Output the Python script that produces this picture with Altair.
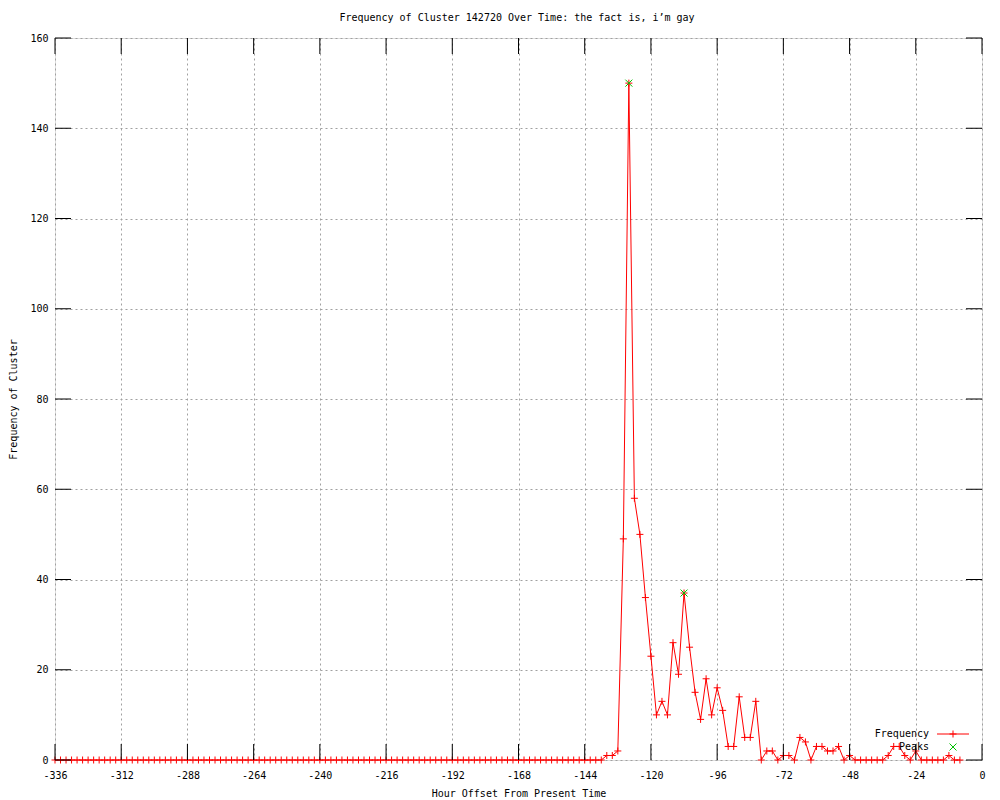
import altair as alt
import pandas as pd

# ---- data ----
hours = list(range(-336, -6, 2))  # observations every 2 hours
freq = [
    0, 0, 0, 0, 0, 0, 0, 0, 0, 0,
    0, 0, 0, 0, 0, 0, 0, 0, 0, 0,
    0, 0, 0, 0, 0, 0, 0, 0, 0, 0,
    0, 0, 0, 0, 0, 0, 0, 0, 0, 0,
    0, 0, 0, 0, 0, 0, 0, 0, 0, 0,
    0, 0, 0, 0, 0, 0, 0, 0, 0, 0,
    0, 0, 0, 0, 0, 0, 0, 0, 0, 0,
    0, 0, 0, 0, 0, 0, 0, 0, 0, 0,
    0, 0, 0, 0, 0, 0, 0, 0, 0, 0,
    0, 0, 0, 0, 0, 0, 0, 0, 0, 0,
    1, 1, 2, 49, 150, 58, 50, 36, 23, 10,
    13, 10, 26, 19, 37, 25, 15, 9, 18, 10,
    16, 11, 3, 3, 14, 5, 5, 13, 0, 2,
    2, 0, 1, 1, 0, 5, 4, 0, 3, 3,
    2, 2, 3, 0, 1, 0, 0, 0, 0, 0,
    0, 1, 3, 3, 1, 0, 2, 0, 0, 0,
    0, 0, 1, 0, 0,
]
assert len(hours) == len(freq)

peak_hours = [-128, -108]
peak_values = [150, 37]

x_ticks = [-336, -312, -288, -264, -240, -216, -192, -168, -144, -120, -96, -72, -48, -24, 0]
y_ticks = [0, 20, 40, 60, 80, 100, 120, 140, 160]

legend_labels = ["Frequency", "Peaks"]
title_text = ["Frequency of Cluster 142720 Over Time: the fact is, i\u2019m gay"]

FONT = "DejaVu Sans Mono"
W, H = 927, 722
RED = "#ff0000"
GREEN = "#00c000"
PLUS = "M-1,0L1,0M0,-1L0,1"
XMARK = "M-1,-1L1,1M-1,1L1,-1"

df = pd.DataFrame({"hour": hours, "freq": freq})
peaks = pd.DataFrame({"hour": peak_hours, "freq": peak_values})
xt = pd.DataFrame({"hour": x_ticks})
yt = pd.DataFrame({"freq": y_ticks})

xscale = alt.Scale(domain=[-336, 0], nice=False, zero=False)
yscale = alt.Scale(domain=[0, 160], nice=False)

x_axis = alt.Axis(
    values=x_ticks, labelExpr="'' + datum.value", title="Hour Offset From Present Time",
    grid=True, gridDash=[2, 3], gridColor="#a0a0a0", gridOpacity=1,
    ticks=False, tickSize=0, domain=False, labelPadding=10, labelFlush=False,
    labelOverlap=False, labelBound=False,
    labelFont=FONT, labelFontSize=10, labelColor="black",
    titleFont=FONT, titleFontSize=10, titleFontWeight="normal", titleColor="black",
    titleY=33, titleBaseline="middle",
)
y_axis = alt.Axis(
    values=y_ticks, labelExpr="'' + datum.value", title="Frequency of Cluster",
    grid=True, gridDash=[2, 3], gridColor="#a0a0a0", gridOpacity=1,
    ticks=False, tickSize=0, domain=False, labelPadding=7, labelFlush=False,
    labelOverlap=False, labelBound=False,
    labelFont=FONT, labelFontSize=10, labelColor="black", labelBaseline="middle",
    titleFont=FONT, titleFontSize=10, titleFontWeight="normal", titleColor="black",
    titleX=-42, titleY=H / 2, titleBaseline="middle", titleAngle=270,
)

X = alt.X("hour:Q", scale=xscale, axis=x_axis)
Y = alt.Y("freq:Q", scale=yscale, axis=y_axis)

line = alt.Chart(df).mark_line(color=RED, strokeWidth=1).encode(x=X, y=Y)
pts = alt.Chart(df).mark_point(shape=PLUS, size=49, color=RED, filled=False, strokeWidth=1, opacity=1).encode(x=X, y=Y)
pk = alt.Chart(peaks).mark_point(shape=XMARK, size=49, color=GREEN, filled=False, strokeWidth=1, opacity=1).encode(x=X, y=Y)

# inward ticks (gnuplot style) on all four sides
tb = alt.Chart(xt).mark_rule(color="black", strokeWidth=1).encode(x=X, y=alt.value(H), y2=alt.value(H - 16))
tt = alt.Chart(xt).mark_rule(color="black", strokeWidth=1).encode(x=X, y=alt.value(0), y2=alt.value(16))
tl = alt.Chart(yt).mark_rule(color="black", strokeWidth=1).encode(y=Y, x=alt.value(0), x2=alt.value(16))
tr = alt.Chart(yt).mark_rule(color="black", strokeWidth=1).encode(y=Y, x=alt.value(W), x2=alt.value(W - 16))

# chart title
ttl = alt.Chart(pd.DataFrame({"t": title_text})).mark_text(
    align="center", baseline="middle", font=FONT, fontSize=10, color="black"
).encode(text="t:N", x=alt.value(462), y=alt.value(-20))

# legend (gnuplot style: label right-aligned, sample on its right)
leg1 = pd.DataFrame({"label": legend_labels[:1]})
leg2 = pd.DataFrame({"label": legend_labels[1:]})
leg_text1 = alt.Chart(leg1).mark_text(align="right", baseline="middle", font=FONT, fontSize=10, color="black").encode(
    text="label:N", x=alt.value(874), y=alt.value(696))
leg_text2 = alt.Chart(leg2).mark_text(align="right", baseline="middle", font=FONT, fontSize=10, color="black").encode(
    text="label:N", x=alt.value(874), y=alt.value(709))
leg_line = alt.Chart(leg1).mark_rule(color=RED, strokeWidth=1).encode(
    x=alt.value(882), x2=alt.value(914), y=alt.value(696))
leg_plus = alt.Chart(leg1).mark_point(shape=PLUS, size=49, color=RED, filled=False, strokeWidth=1, opacity=1).encode(
    x=alt.value(898), y=alt.value(696))
leg_x = alt.Chart(leg2).mark_point(shape=XMARK, size=49, color=GREEN, filled=False, strokeWidth=1, opacity=1).encode(
    x=alt.value(898), y=alt.value(709))

chart = alt.layer(
    line, pts, pk, tb, tt, tl, tr, ttl, leg_text1, leg_text2, leg_line, leg_plus, leg_x
).properties(
    width=W, height=H,
    autosize=alt.AutoSizeParams(type="none"),
    padding={"left": 47, "top": 30, "right": 10, "bottom": 40},
).configure_view(stroke="black", strokeWidth=1).configure(background="white")

chart.save("out.html", embed_options={"renderer": "svg", "actions": False})
